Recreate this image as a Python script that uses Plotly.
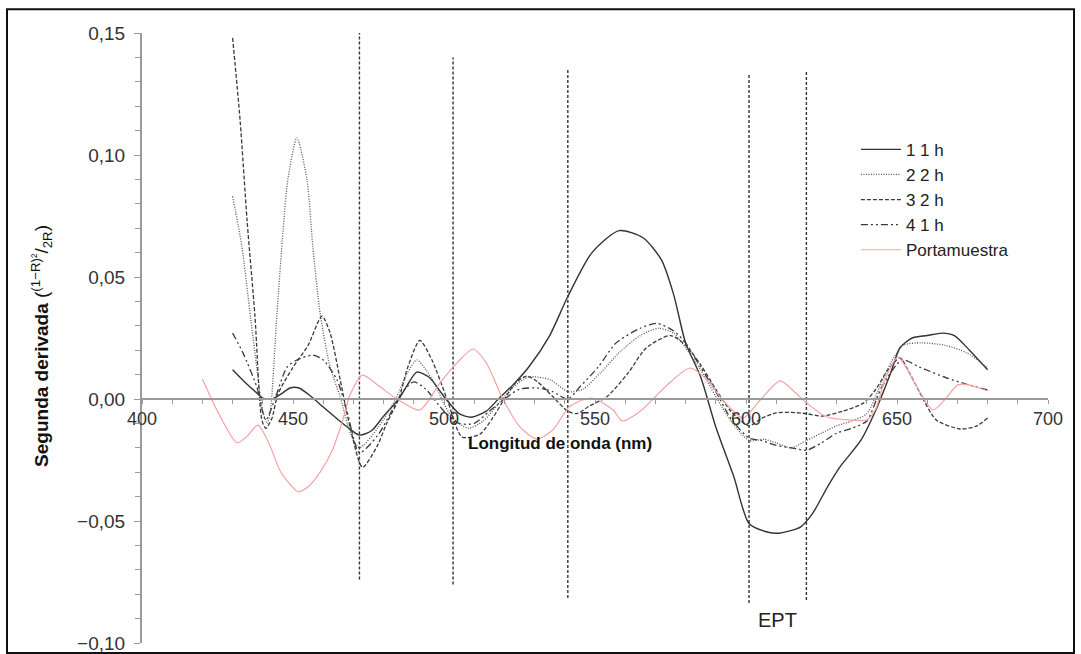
import plotly.graph_objects as go

# ---------------- data ----------------
s1_x = [430, 434, 438, 440, 443, 446, 449, 452, 456, 460, 464, 468, 472, 476, 480, 485, 488, 491, 495, 500,
        505, 509, 514, 518, 523, 528, 535, 541, 549, 558, 566, 572, 576, 580, 585, 590, 596, 601, 607, 611,
        618, 622, 627, 631, 638, 643, 648, 651, 655, 660, 665, 669, 674, 680]
s1_y = [0.012, 0.007, 0.0025, 0.0004, 0.0, 0.002, 0.0045, 0.0045, 0.001, -0.0033, -0.0075, -0.0115, -0.0148,
        -0.013, -0.007, 0.0, 0.006, 0.011, 0.009, 0.001, -0.006, -0.0075, -0.005, 0.0, 0.006, 0.013, 0.026,
        0.042, 0.060, 0.069, 0.066, 0.057, 0.043, 0.023, 0.009, -0.0115, -0.032, -0.051, -0.0545, -0.055,
        -0.0525, -0.047, -0.036, -0.028, -0.017, -0.0045, 0.011, 0.021, 0.025, 0.026, 0.027, 0.026, 0.020, 0.012]

s2_x = [430, 433, 436, 438, 440, 441.5, 442.5, 444.7, 446.7, 448.3, 451.3, 454.6, 456.6, 459, 462.3, 465.6,
        469, 472, 478, 484, 488, 491, 494, 497, 500, 503, 508, 513, 518, 523, 528, 535, 541, 546, 552, 558,
        565, 571, 576, 580, 585, 590, 595, 601, 606, 610, 615, 620, 625, 630, 635, 640, 645, 648, 652, 658,
        666, 673, 680]
s2_y = [0.083, 0.063, 0.033, 0.013, -0.005, -0.010, -0.005, 0.035, 0.069, 0.090, 0.107, 0.090, 0.062, 0.035,
        0.013, 0.001, -0.014, -0.020, -0.012, 0.0, 0.011, 0.016, 0.012, 0.006, -0.002, -0.008, -0.012, -0.009,
        -0.002, 0.005, 0.009, 0.008, 0.003, 0.004, 0.011, 0.019, 0.026, 0.029, 0.027, 0.021, 0.012, 0.001,
        -0.009, -0.017, -0.0165, -0.018, -0.020, -0.017, -0.014, -0.011, -0.009, -0.006, 0.007, 0.015, 0.022,
        0.023, 0.022, 0.019, 0.0127]

s3_x = [430, 432.5, 434.8, 437.4, 439.7, 441, 443, 445, 450, 455, 459.6, 462.3, 465.6, 469, 473, 478, 481,
        485, 488, 492, 496, 501, 506, 512, 516, 520, 524, 527.5, 531, 536, 541, 544, 548, 554, 561, 567, 575,
        580, 585, 590, 595, 601, 605, 610, 615, 620, 625, 632, 639, 643, 647, 651, 654, 657.6, 663, 671,
        676.5, 680]
s3_y = [0.148, 0.114, 0.073, 0.034, -0.0086, -0.012, -0.008, 0.002, 0.013, 0.022, 0.034, 0.027, 0.008,
        -0.012, -0.028, -0.019, -0.010, 0.0, 0.013, 0.024, 0.016, 0.0, -0.0156, -0.0143, -0.008, 0.0, 0.007,
        0.0094, 0.007, 0.001, -0.005, -0.006, -0.003, 0.001, 0.0107, 0.021, 0.026, 0.022, 0.014, 0.004,
        -0.005, -0.011, -0.008, -0.0057, -0.0055, -0.006, -0.007, -0.005, -0.0016, 0.004, 0.012, 0.0168,
        0.011, 0.0025, -0.0086, -0.0123, -0.011, -0.0078]

s4_x = [430, 433.4, 438, 441, 444, 448, 451.3, 456.6, 460, 464.6, 468, 472, 478, 484, 487, 490, 494, 500,
        505, 510, 515, 520, 525, 531, 536, 541, 545, 551, 557, 565, 570.5, 576, 580, 585, 590, 595, 601, 605,
        610, 615, 620, 625, 630, 635, 640, 645, 651.7, 657.6, 666.5, 674, 680]
s4_y = [0.027, 0.019, 0.005, -0.0086, 0.0, 0.013, 0.016, 0.018, 0.016, 0.0078, -0.0057, -0.022, -0.015,
        -0.002, 0.004, 0.007, 0.004, -0.005, -0.010, -0.010, -0.005, 0.0, 0.004, 0.0045, 0.003, 0.0, 0.005,
        0.013, 0.023, 0.029, 0.031, 0.028, 0.023, 0.013, 0.003, -0.008, -0.016, -0.017, -0.019, -0.020,
        -0.021, -0.018, -0.014, -0.012, -0.009, 0.005, 0.016, 0.013, 0.0086, 0.0057, 0.0037]

pm_x = [420, 425, 431.5, 435, 438.4, 442, 446, 451.7, 455, 459, 463, 466.5, 469, 473, 478.8, 484.4, 492,
        498.7, 504.3, 509.6, 514, 519.5, 525.2, 530.8, 536, 541.7, 549, 556, 559, 565, 570, 575, 581.5, 587,
        592, 599, 605, 611.3, 616, 620, 626.8, 634.4, 640, 643, 646, 650.3, 653, 656.6, 661.9, 666, 670,
        673, 680]
pm_y = [0.0082, -0.005, -0.018, -0.015, -0.0107, -0.018, -0.030, -0.038, -0.036, -0.030, -0.021, -0.0086,
        0.002, 0.0098, 0.005, 0.0, -0.0045, 0.0066, 0.0148, 0.0205, 0.0148, 0.0, -0.0115, -0.0164, -0.0127,
        -0.003, 0.0004, -0.0045, -0.009, -0.005, 0.001, 0.007, 0.0127, 0.008, 0.0, -0.0078, 0.0, 0.0074,
        0.003, -0.0016, -0.0074, -0.0086, -0.0086, -0.004, 0.008, 0.0172, 0.013, 0.005, -0.0045, 0.0,
        0.0057, 0.006, 0.0033]

series_names = ["1 1 h", "2 2 h", "3 2 h", "4 1 h", "Portamuestra"]

# vertical reference lines (wavelength, bottom, top)
vline_x = [472, 503, 541, 601, 620]
vline_bottom = [-0.074, -0.076, -0.0816, -0.0836, -0.0824]
vline_top = [0.1545, 0.140, 0.1357, 0.133, 0.134]

x_ticks = [400, 450, 500, 550, 600, 650, 700]
y_ticks = [-0.10, -0.05, 0.00, 0.05, 0.10, 0.15]

FONT = "Liberation Sans, Arial, sans-serif"

# ---------------- figure ----------------
fig = go.Figure()

for vx, vb, vt in zip(vline_x, vline_bottom, vline_top):
    fig.add_trace(go.Scatter(x=[vx, vx], y=[vb, vt], mode="lines", showlegend=False, hoverinfo="skip",
                             line=dict(color="#333333", width=1.4, dash="3px,2px")))

styles = [
    dict(color="#333333", width=1.4, dash="solid"),
    dict(color="#555555", width=1.3, dash="1px,1.5px"),
    dict(color="#3a3a3a", width=1.3, dash="4px,2px"),
    dict(color="#3a3a3a", width=1.3, dash="7px,3px,2px,3px,2px,3px"),
    dict(color="#f3a3a3", width=1.2, dash="solid"),
]
xs = [s1_x, s2_x, s3_x, s4_x, pm_x]
ys = [s1_y, s2_y, s3_y, s4_y, pm_y]
for name, x, y, st in zip(series_names, xs, ys, styles):
    fig.add_trace(go.Scatter(x=x, y=y, mode="lines", name=name,
                             line=dict(shape="spline", smoothing=0.7, **st)))

fig.add_annotation(x=610.5, y=-0.0905, xref="x", yref="y", text="EPT", showarrow=False,
                   font=dict(size=20, color="#222222", family=FONT))

fig.add_annotation(x=0.4614, y=0.327, xref="paper", yref="paper", xanchor="center", yanchor="middle",
                   text="<b>Longitud de onda (nm)</b>", showarrow=False,
                   font=dict(size=17, color="#111111", family=FONT))

fig.add_annotation(x=-0.1104, y=0.487, xref="paper", yref="paper", textangle=-90,
                   xanchor="center", yanchor="middle",
                   text="<b>Segunda derivada</b> (<sup>(1−R)²</sup>/<sub>2R</sub>)",
                   showarrow=False,
                   font=dict(size=19, color="#111111", family=FONT))

# outer frame
fig.add_shape(type="rect", xref="paper", yref="paper", x0=-0.149, x1=1.0287, y0=-0.0164, y1=1.039,
              line=dict(color="#111111", width=2), fillcolor="rgba(0,0,0,0)", layer="above")

fig.update_layout(
    width=1081, height=654, autosize=False,
    margin=dict(l=142, r=33, t=33, b=11, autoexpand=False),
    paper_bgcolor="white", plot_bgcolor="white",
    separators=",.",
    font=dict(family=FONT, color="#333333"),
    showlegend=True,
    legend=dict(x=0.788, y=0.838, xanchor="left", yanchor="top", bgcolor="rgba(0,0,0,0)",
                font=dict(size=17, color="#222222"), itemwidth=40, tracegroupgap=0),
    xaxis=dict(range=[400, 700], anchor="free", position=0.4, showline=True, linecolor="#9a9a9a",
               linewidth=1.5, ticks="outside", ticklen=4, tickcolor="#9a9a9a", tickvals=x_ticks,
               minor=dict(dtick=10, tick0=400, ticks="outside", ticklen=4, tickcolor="#9a9a9a"),
               showgrid=False, zeroline=False, automargin=False, tickfont=dict(size=18, color="#333333")),
    yaxis=dict(range=[-0.10, 0.15], showline=True, linecolor="#9a9a9a", linewidth=2,
               ticks="outside", ticklen=6, tickcolor="#9a9a9a", tickvals=y_ticks, tickformat=".2f",
               minor=dict(dtick=0.01, tick0=0, ticks="outside", ticklen=5, tickcolor="#9a9a9a"),
               showgrid=False, zeroline=False, ticklabelstandoff=5, automargin=False,
               tickfont=dict(size=19, color="#333333")),
)

fig.write_html("out.html")
